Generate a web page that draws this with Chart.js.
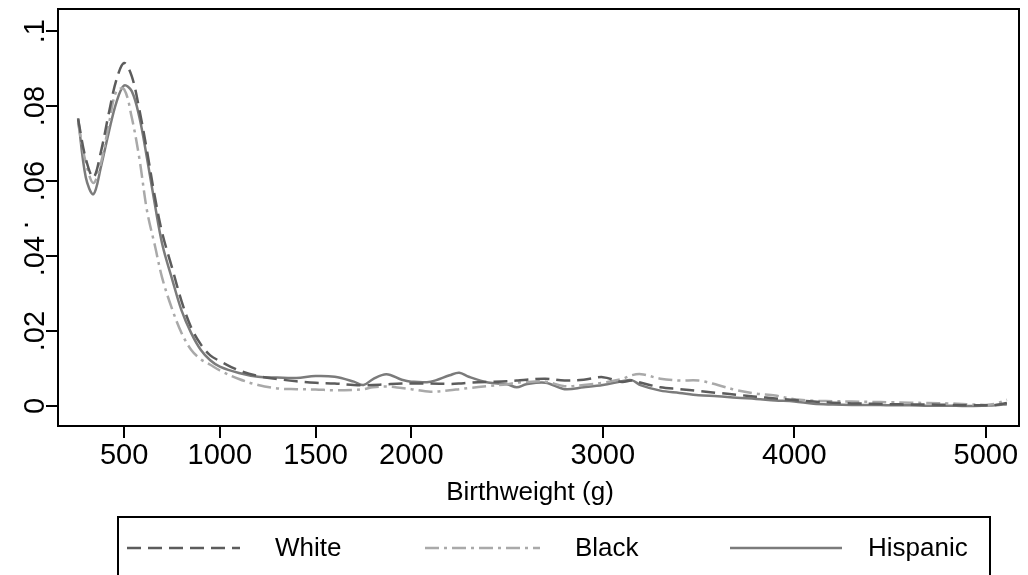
<!DOCTYPE html>
<html>
<head>
<meta charset="utf-8">
<script src="https://cdn.jsdelivr.net/npm/chart.js@4/dist/chart.umd.min.js"></script>
<style>
  html, body { margin: 0; padding: 0; background: #fff; }
  #wrap { width: 1028px; height: 575px; }
</style>
</head>
<body>
<div id="wrap"><canvas id="chart"></canvas></div>
<script>
// birthweight grid (g) and density per group
const birthweight = [260, 300, 340, 380, 420, 460, 500, 540, 580, 620, 660, 700, 750, 800, 850, 900, 950, 1000,
  1100, 1200, 1300, 1400, 1500, 1600, 1700, 1750, 1800, 1870, 1950, 2000, 2100, 2200, 2250, 2300, 2400, 2500,
  2550, 2600, 2700, 2800, 2900, 3000, 3100, 3150, 3200, 3300, 3400, 3500, 3600, 3700, 3800, 3900, 4000, 4100,
  4200, 4300, 4400, 4500, 4600, 4700, 4800, 4900, 5000, 5050, 5110];

const white = [0.0765, 0.066, 0.061, 0.068, 0.078, 0.087, 0.0915, 0.088, 0.079, 0.068, 0.056, 0.046, 0.037, 0.028,
  0.021, 0.0165, 0.0135, 0.012, 0.0095, 0.008, 0.0072, 0.0066, 0.0062, 0.006, 0.0056, 0.0055, 0.0056, 0.0058,
  0.006, 0.006, 0.006, 0.0059, 0.006, 0.0062, 0.0064, 0.0066, 0.0068, 0.007, 0.0073, 0.0068, 0.007, 0.0077,
  0.0064, 0.0068, 0.0062, 0.005, 0.0045, 0.004, 0.0035, 0.003, 0.0025, 0.002, 0.0016, 0.0012, 0.0009, 0.0007,
  0.0006, 0.0005, 0.0004, 0.0004, 0.0003, 0.0002, 0.0002, 0.0003, 0.0008];

const black = [0.0755, 0.065, 0.0595, 0.065, 0.075, 0.084, 0.0845, 0.077, 0.066, 0.052, 0.043, 0.034, 0.026, 0.0195,
  0.015, 0.0125, 0.011, 0.0095, 0.0072, 0.0056, 0.0047, 0.0045, 0.0044, 0.0042, 0.0043, 0.0045, 0.005, 0.0052,
  0.0048, 0.0045, 0.0038, 0.0042, 0.0045, 0.0048, 0.0053, 0.0058, 0.0062, 0.0064, 0.0065, 0.0053, 0.0056, 0.0062,
  0.0072, 0.0082, 0.0085, 0.0073, 0.0068, 0.0068, 0.0056, 0.0042, 0.0033, 0.0028, 0.0018, 0.0014, 0.0013, 0.0012,
  0.0011, 0.001, 0.0009, 0.0008, 0.0007, 0.0005, 0.0003, 0.0006, 0.0017];

const hispanic = [0.0768, 0.061, 0.0565, 0.064, 0.073, 0.081, 0.0855, 0.084, 0.077, 0.066, 0.054, 0.043, 0.034, 0.0255,
  0.0195, 0.015, 0.0122, 0.0105, 0.0088, 0.0078, 0.0076, 0.0075, 0.008, 0.0078, 0.0065, 0.0056, 0.0072, 0.0085,
  0.007, 0.0065, 0.0065, 0.0082, 0.0089, 0.0078, 0.0063, 0.0058, 0.005, 0.0058, 0.0062, 0.0045, 0.005, 0.0056,
  0.0066, 0.0069, 0.0055, 0.0041, 0.0035, 0.0029, 0.0026, 0.0022, 0.0019, 0.0015, 0.0012, 0.0006, 0.0004, 0.0003,
  0.0003, 0.0002, 0.0002, 0.0001, 0.0001, 0.0, 0.0001, 0.0002, 0.0005];

const seriesNames = ["White", "Black", "Hispanic"];
const xTicks = [500, 1000, 1500, 2000, 3000, 4000, 5000];
const yTicks = [0, 0.02, 0.04, 0.06, 0.08, 0.1];
const yTickLabels = ["0", ".02", ".04", ".06", ".08", ".1"];
const xTitle = "Birthweight (g)";
const yTitle = ".";

const FONT = '"Liberation Sans", Arial, sans-serif';
const styles = [
  { color: "#5c5c5c", dash: [14, 7] },
  { color: "#a9a9a9", dash: [14, 5, 3, 5] },
  { color: "#7b7b7b", dash: [] },
];

const toPoints = ys => birthweight.map((x, i) => ({ x, y: ys[i] }));

const frame = {
  id: "frame",
  afterDraw(chart) {
    const { ctx, chartArea: a, scales } = chart;
    ctx.save();
    ctx.strokeStyle = "#000";
    ctx.lineWidth = 2;
    ctx.strokeRect(a.left, a.top, a.right - a.left, a.bottom - a.top);

    // rotated y tick labels
    ctx.fillStyle = "#000";
    ctx.font = "29px " + FONT;
    ctx.textAlign = "center";
    ctx.textBaseline = "alphabetic";
    yTicks.forEach((v, i) => {
      const y = scales.y.getPixelForValue(v);
      ctx.save();
      ctx.translate(44, y);
      ctx.rotate(-Math.PI / 2);
      ctx.fillText(yTickLabels[i], 0, 0);
      ctx.restore();
    });
    ctx.save();
    ctx.translate(28, 225);
    ctx.rotate(-Math.PI / 2);
    ctx.fillText(yTitle, 0, 0);
    ctx.restore();

    // x title
    ctx.font = "26px " + FONT;
    ctx.textBaseline = "middle";
    ctx.fillText(xTitle, 530, 493);

    // legend
    ctx.strokeStyle = "#000";
    ctx.lineWidth = 2;
    ctx.strokeRect(118, 517, 872, 80);
    const items = [
      { x0: 127, x1: 240, tx: 275 },
      { x0: 425, x1: 540, tx: 575 },
      { x0: 730, x1: 842, tx: 868 },
    ];
    ctx.font = "26px " + FONT;
    ctx.textAlign = "left";
    items.forEach((it, i) => {
      ctx.beginPath();
      ctx.strokeStyle = styles[i].color;
      ctx.lineWidth = 2.5;
      ctx.setLineDash(styles[i].dash);
      ctx.moveTo(it.x0, 548);
      ctx.lineTo(it.x1, 548);
      ctx.stroke();
      ctx.setLineDash([]);
      ctx.fillStyle = "#000";
      ctx.fillText(seriesNames[i], it.tx, 549);
    });
    ctx.restore();
  },
};

new Chart(document.getElementById("chart"), {
  type: "line",
  data: {
    datasets: [white, black, hispanic].map((ys, i) => ({
      label: seriesNames[i],
      data: toPoints(ys),
      borderColor: styles[i].color,
      borderDash: styles[i].dash,
      borderWidth: 2.5,
      pointRadius: 0,
      tension: 0.35,
      fill: false,
    })),
  },
  options: {
    responsive: true,
    maintainAspectRatio: false,
    devicePixelRatio: 1,
    animation: false,
    layout: { padding: { left: 0, right: 9, top: 9, bottom: 0 } },
    plugins: { legend: { display: false }, tooltip: { enabled: false } },
    scales: {
      x: {
        type: "linear",
        min: 155,
        max: 5173,
        afterBuildTicks: s => { s.ticks = xTicks.map(v => ({ value: v })); },
        afterFit: s => { s.height = 149; },
        ticks: {
          color: "#000", font: { family: FONT, size: 29 }, padding: 1, maxRotation: 0, autoSkip: false,
          callback: v => String(v),
        },
        grid: { drawOnChartArea: false, drawTicks: true, tickLength: 12, color: "#000", lineWidth: 2 },
        border: { display: true, color: "#000", width: 2 },
      },
      y: {
        type: "linear",
        min: -0.00533,
        max: 0.1059,
        afterBuildTicks: s => { s.ticks = yTicks.map(v => ({ value: v })); },
        afterFit: s => { s.width = 58; },
        ticks: { display: false },
        grid: { drawOnChartArea: false, drawTicks: true, tickLength: 12, color: "#000", lineWidth: 2 },
        border: { display: true, color: "#000", width: 2 },
      },
    },
  },
  plugins: [frame],
});
</script>
</body>
</html>
